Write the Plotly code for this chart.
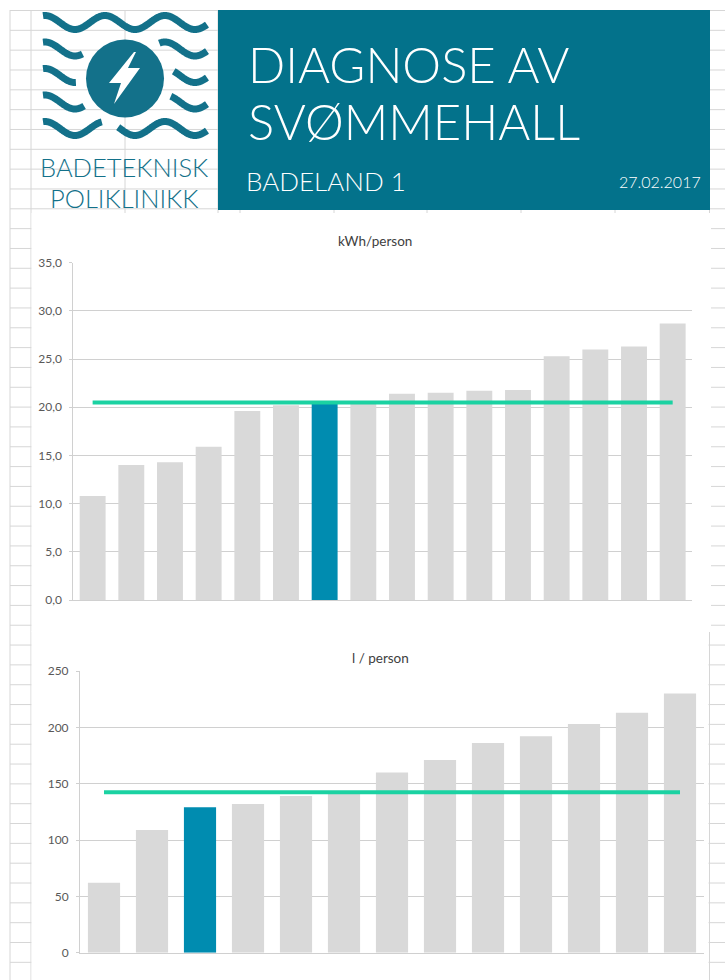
import numpy as np
import plotly.graph_objects as go

W, H = 725, 980

# ---------------- data ----------------
kwh_categories = [f"Anlegg {i}" for i in range(1, 17)]
kwh_values = [10.8, 14.0, 14.3, 15.9, 19.6, 20.2, 20.4, 20.6, 21.4, 21.5, 21.7, 21.8, 25.3, 26.0, 26.3, 28.7]
kwh_highlight = 6
kwh_average = 20.5
kwh_tickvals = [0, 5, 10, 15, 20, 25, 30, 35]
kwh_ticktext = ["0,0", "5,0", "10,0", "15,0", "20,0", "25,0", "30,0", "35,0"]

liter_categories = [f"Anlegg {i}" for i in range(1, 14)]
liter_values = [62, 109, 129, 132, 139, 142, 160, 171, 186, 192, 203, 213, 230]
liter_highlight = 2
liter_average = 142.5
liter_tickvals = [0, 50, 100, 150, 200, 250]
liter_ticktext = ["0", "50", "100", "150", "200", "250"]

title_line1 = "DIAGNOSE AV"
title_line2 = "SVØMMEHALL"
subtitle = "BADELAND 1"
date_text = "27.02.2017"
logo_line1 = "BADETEKNISK"
logo_line2 = "POLIKLINIKK"
chart1_title = "kWh/person"
chart2_title = "l / person"

# ---------------- styles ----------------
GRAY_BAR = "#D9D9D9"
TEAL_BAR = "#008CB0"
AVG_COLOR = "#1BD2A2"
BANNER = "#03728B"
LOGO = "#13718A"
GRID = "#D6D6D6"
FONT = "Lato"


def X(x):
    return x / W


def Y(y):
    return 1 - y / H


shapes = []

# spreadsheet grid in background
col_x = [10, 31, 125, 218, 240, 334, 427, 521, 615, 709.5]
for cx in col_x:
    shapes.append(dict(type="line", xref="paper", yref="paper", x0=X(cx), x1=X(cx), y0=Y(10), y1=Y(H),
                       line=dict(color=GRID, width=1), layer="below"))
for k in range(0, 50):
    ry = 10.5 + 19.83 * k
    shapes.append(dict(type="line", xref="paper", yref="paper", x0=X(10), x1=X(W), y0=Y(ry), y1=Y(ry),
                       line=dict(color=GRID, width=1), layer="below"))

# chart boxes
shapes.append(dict(type="rect", xref="paper", yref="paper", x0=X(31.5), x1=X(711), y0=Y(632), y1=Y(213),
                   fillcolor="white", line=dict(width=0), layer="below"))
shapes.append(dict(type="rect", xref="paper", yref="paper", x0=X(31.5), x1=X(708.5), y0=Y(H + 2), y1=Y(631),
                   fillcolor="white", line=dict(width=0), layer="below"))

# banner
shapes.append(dict(type="rect", xref="paper", yref="paper", x0=X(218), x1=X(710), y0=Y(210), y1=Y(10),
                   fillcolor=BANNER, line=dict(width=0), layer="below"))

# logo waves
cxc, cyc, rc = 125, 78.5, 39
wave_rows = [22.5, 49, 75.5, 102, 128.5]
xs = np.linspace(43, 207, 400)
for wy in wave_rows:
    ys = wy - 7.0 * np.cos(2 * np.pi * (xs - 45) / 60)
    keep = np.hypot(xs - cxc, ys - cyc) > rc + 10
    seg = []
    segs = []
    for xx, yy, kk in zip(xs, ys, keep):
        if kk:
            seg.append((xx, yy))
        else:
            if len(seg) > 1:
                segs.append(seg)
            seg = []
    if len(seg) > 1:
        segs.append(seg)
    for s in segs:
        path = "M " + " L ".join(f"{X(a):.5f},{Y(b):.5f}" for a, b in s)
        shapes.append(dict(type="path", xref="paper", yref="paper", path=path,
                           line=dict(color=LOGO, width=7), layer="below"))

shapes.append(dict(type="circle", xref="paper", yref="paper", x0=X(cxc - rc), x1=X(cxc + rc),
                   y0=Y(cyc + rc), y1=Y(cyc - rc), fillcolor=LOGO, line=dict(width=0), layer="below"))
bolt = [(134, 52), (109, 83), (121, 83), (114, 104), (140, 68), (128, 68), (136, 52)]
bolt_path = "M " + " L ".join(f"{X(a):.5f},{Y(b):.5f}" for a, b in bolt) + " Z"
shapes.append(dict(type="path", xref="paper", yref="paper", path=bolt_path, fillcolor="white",
                   line=dict(width=0), layer="below"))

# ---------------- figure ----------------
fig = go.Figure()

fig.add_trace(go.Bar(
    x=kwh_categories, y=kwh_values,
    marker=dict(color=[TEAL_BAR if i == kwh_highlight else GRAY_BAR for i in range(len(kwh_values))],
                line=dict(width=0)),
    xaxis="x", yaxis="y", showlegend=False, hoverinfo="y"))
fig.add_trace(go.Scatter(
    x=kwh_categories, y=[kwh_average] * len(kwh_categories), mode="lines",
    line=dict(color=AVG_COLOR, width=4), xaxis="x", yaxis="y", showlegend=False))

fig.add_trace(go.Bar(
    x=liter_categories, y=liter_values,
    marker=dict(color=[TEAL_BAR if i == liter_highlight else GRAY_BAR for i in range(len(liter_values))],
                line=dict(width=0)),
    xaxis="x2", yaxis="y2", showlegend=False, hoverinfo="y"))
fig.add_trace(go.Scatter(
    x=liter_categories, y=[liter_average] * len(liter_categories), mode="lines",
    line=dict(color=AVG_COLOR, width=4), xaxis="x2", yaxis="y2", showlegend=False))

axis_common = dict(showline=True, linecolor="#D0D0D0", linewidth=1, zeroline=False, automargin=False)
tickfont = dict(family=FONT, size=12, color="#595959")

fig.update_layout(
    width=W, height=H,
    autosize=False,
    margin=dict(l=0, r=0, t=0, b=0, pad=0, autoexpand=False),
    paper_bgcolor="white",
    plot_bgcolor="rgba(0,0,0,0)",
    bargap=0.33,
    shapes=shapes,
    xaxis=dict(domain=[X(73.3), X(692)], showticklabels=False, ticks="", showgrid=False,
               anchor="y", **axis_common),
    yaxis=dict(domain=[Y(600), Y(262.7)], range=[0, 35], tickvals=kwh_tickvals, ticktext=kwh_ticktext,
               showgrid=True, gridcolor="#D0D0D0", gridwidth=1, ticks="outside", ticklen=3,
               tickcolor="#D0D0D0", tickfont=tickfont, anchor="x", ticklabelstandoff=5, **axis_common),
    xaxis2=dict(domain=[X(80), X(704)], showticklabels=False, ticks="", showgrid=False,
                anchor="y2", **axis_common),
    yaxis2=dict(domain=[Y(952.7), Y(671)], range=[0, 250], tickvals=liter_tickvals, ticktext=liter_ticktext,
                showgrid=True, gridcolor="#D0D0D0", gridwidth=1, ticks="outside", ticklen=3,
                tickcolor="#D0D0D0", tickfont=tickfont, anchor="x2", ticklabelstandoff=5, **axis_common),
)

ann = []


def text(s, x, y, size, color, xanchor="left", yanchor="middle", weight=None):
    f = dict(family=FONT, size=size, color=color)
    if weight:
        f["weight"] = weight
    ann.append(dict(text=s, x=X(x), y=Y(y), xref="paper", yref="paper", showarrow=False,
                    xanchor=xanchor, yanchor=yanchor, font=f))


text(title_line1, 246, 64, 49, "white", weight=300)
text(title_line2, 246, 121, 49, "white", weight=300)
text(subtitle, 244, 181, 26, "white", weight=300)
text(date_text, 703, 181, 16, "white", xanchor="right", weight=300)
text(logo_line1, 124, 167, 25.5, LOGO, xanchor="center", weight=300)
text(logo_line2, 124, 198, 25.5, LOGO, xanchor="center", weight=300)
text(chart1_title, 375, 241, 13.5, "#404040", xanchor="center")
text(chart2_title, 380, 658, 13.5, "#404040", xanchor="center")

fig.update_layout(annotations=ann)

fig.write_html("out.html",
               config={"displayModeBar": False},
               post_script="document.body.style.margin='0px';document.body.style.overflow='hidden';")
